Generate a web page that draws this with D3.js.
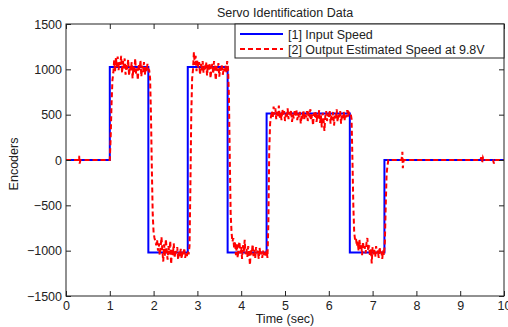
<!DOCTYPE html>
<html>
<head>
<meta charset="utf-8">
<script src="https://cdn.jsdelivr.net/npm/d3@7"></script>
<style>
  body { margin: 0; background: #fff; }
  svg text { font-family: "Liberation Sans", Arial, sans-serif; fill: #222; }
</style>
</head>
<body>
<div id="chart"></div>
<script>
const width = 508;
const height = 327;
const margin = { top: 24, right: 4, bottom: 31, left: 66 };
const fontSize = 12.5;

// input speed: step changes (time, level held until next time)
const inputTimes = [0, 1.0, 1.88, 2.78, 3.69, 4.58, 6.48, 7.27, 10];
const inputLevels = [0, 1025, -1020, 1025, -1020, 512, -1020, 0, 0];

// output speed, flat parts given as [time, value]
const outputBefore = [[0, 0], [0.28, 0], [0.30, 45], [0.31, -40], [0.33, 0], [0.98, 0]];
const outputAfter = [[7.40, 0], [7.66, 0], [7.68, 90], [7.69, -90], [7.71, 0], [9.46, 0], [9.48, 30],
  [9.50, -30], [9.52, 25], [9.54, 0], [9.75, 0], [9.77, -40], [9.79, 0], [10, 0]];

// sampled every 0.02 s starting at 1.00 s
const sampleStart = 1.0;
const sampleStep = 0.02;
const outHigh1 = [0, 250, 620, 880, 960, 1100, 980, 1130, 1020, 1140, 990, 1080, 1050, 1150, 960, 1090,
  1010, 1120, 940, 1060, 1000, 1110, 930, 1040, 990, 1080, 900, 1030, 960, 1120, 950, 1010, 880, 1060,
  990, 1100, 920, 1040, 970, 1080, 940, 1030, 980, 1060, 1000, 990, 900];
const outLow1 = [500, -100, -600, -800, -860, -900, -940, -880, -1000, -920, -1050, -960, -850, -1000,
  -1120, -930, -1060, -870, -1000, -1100, -950, -1040, -890, -1150, -980, -1050, -920, -1080, -990, -1030,
  -960, -1100, -1000, -1060, -980, -1090, -1010, -1040, -970, -1080, -1020, -1060, -1000, -1040, -950,
  -300, 500, 900];
const outHigh2 = [1000, 1190, 1050, 1150, 980, 1100, 1020, 1080, 940, 1060, 990, 1090, 960, 1040, 1000,
  1080, 930, 1050, 980, 1070, 900, 1010, 1060, 950, 1090, 1000, 880, 1040, 980, 1070, 920, 1020, 970,
  1060, 940, 1010, 980, 1040, 960, 1090, 1000, 700];
const outLow2 = [0, -600, -800, -900, -860, -980, -900, -1050, -920, -1080, -960, -900, -1030, -960, -1090,
  -940, -1010, -880, -1040, -980, -1070, -950, -1020, -1160, -980, -1040, -930, -1060, -990, -1080, -960,
  -1030, -1000, -1090, -970, -1050, -1010, -1080, -1000, -1060, -1020, -1070, -1000, -1080, -700];
const outMid = [100, 400, 480, 540, 460, 590, 500, 570, 450, 530, 480, 600, 460, 520, 440, 560, 490, 540,
  430, 510, 470, 570, 450, 530, 480, 550, 420, 500, 460, 540, 490, 560, 440, 510, 470, 530, 400, 500, 480,
  550, 450, 520, 470, 540, 430, 510, 490, 560, 440, 500, 380, 520, 470, 540, 420, 500, 460, 550, 410, 490,
  360, 520, 450, 320, 480, 540, 430, 510, 460, 550, 400, 500, 440, 530, 380, 490, 450, 560, 420, 510, 470,
  540, 400, 500, 460, 530, 440, 510, 470, 550, 480, 520, 500, 510, 450];
const outLow3 = [0, -500, -800, -880, -860, -950, -900, -1000, -880, -980, -930, -1050, -900, -990, -950,
  -1030, -920, -860, -1000, -940, -1060, -980, -1140, -960, -1040, -990, -1070, -950, -1030, -1000, -1080,
  -960, -1040, -1010, -1090, -1000, -1050, -900, -500, -150, -60, 0];

const xTicks = d3.range(0, 11, 1);
const yTicks = [-1500, -1000, -500, 0, 500, 1000, 1500];

const sampled = [].concat(outHigh1, outLow1, outHigh2, outLow2, outMid, outLow3)
  .map((v, i) => [sampleStart + i * sampleStep, v]);
const outputData = outputBefore.concat(sampled, outputAfter);
const inputData = inputTimes.map((t, i) => [t, inputLevels[i]]);

const svg = d3.select('#chart')
  .append('svg')
  .attr('width', width)
  .attr('height', height);

const x = d3.scaleLinear()
  .domain([0, 10])
  .range([margin.left, width - margin.right]);

const y = d3.scaleLinear()
  .domain([-1500, 1500])
  .range([height - margin.bottom, margin.top]);

const plot = svg.append('g');

// lines
plot.append('path')
  .datum(inputData)
  .attr('d', d3.line().x(d => x(d[0])).y(d => y(d[1])).curve(d3.curveStepAfter))
  .attr('fill', 'none')
  .attr('stroke', '#0000ff')
  .attr('stroke-width', 2);

plot.append('path')
  .datum(outputData)
  .attr('d', d3.line().x(d => x(d[0])).y(d => y(d[1])))
  .attr('fill', 'none')
  .attr('stroke', '#ff0000')
  .attr('stroke-width', 2)
  .attr('stroke-dasharray', '5,3');

// axes, ticks inward on all four sides
const tickLen = 5;
svg.append('g')
  .attr('transform', `translate(0, ${height - margin.bottom})`)
  .call(d3.axisBottom(x).tickValues(xTicks).tickFormat(d3.format('d'))
    .tickSizeInner(-tickLen).tickSizeOuter(0).tickPadding(3))
  .call(g => g.select('.domain').remove())
  .call(g => g.selectAll('text').attr('font-size', fontSize).attr('dy', '0.85em'));

svg.append('g')
  .attr('transform', `translate(0, ${margin.top})`)
  .call(d3.axisTop(x).tickValues(xTicks).tickSizeInner(-tickLen).tickSizeOuter(0).tickFormat(''))
  .call(g => g.select('.domain').remove());

svg.append('g')
  .attr('transform', `translate(${margin.left}, 0)`)
  .call(d3.axisLeft(y).tickValues(yTicks).tickFormat(d3.format('d'))
    .tickSizeInner(-tickLen).tickSizeOuter(0).tickPadding(4))
  .call(g => g.select('.domain').remove())
  .call(g => g.selectAll('text').attr('font-size', fontSize));

svg.append('g')
  .attr('transform', `translate(${width - margin.right}, 0)`)
  .call(d3.axisRight(y).tickValues(yTicks).tickSizeInner(-tickLen).tickSizeOuter(0).tickFormat(''))
  .call(g => g.select('.domain').remove());

svg.selectAll('.tick line').attr('stroke', '#222');

svg.append('rect')
  .attr('x', x(0))
  .attr('y', y(1500))
  .attr('width', x(10) - x(0))
  .attr('height', y(-1500) - y(1500))
  .attr('fill', 'none')
  .attr('stroke', '#222');

// labels
svg.append('text')
  .text('Servo Identification Data')
  .attr('x', (x(0) + x(10)) / 2)
  .attr('y', 17)
  .attr('text-anchor', 'middle')
  .attr('font-size', fontSize);

svg.append('text')
  .text('Time (sec)')
  .attr('x', (x(0) + x(10)) / 2)
  .attr('y', 323)
  .attr('text-anchor', 'middle')
  .attr('font-size', fontSize);

svg.append('text')
  .text('Encoders')
  .attr('transform', `translate(18, ${y(0) + 4}) rotate(-90)`)
  .attr('text-anchor', 'middle')
  .attr('font-size', fontSize);

// legend
const legend = svg.append('g');
legend.append('rect')
  .attr('x', 235)
  .attr('y', y(1500))
  .attr('width', x(10) - 235)
  .attr('height', 34)
  .attr('fill', '#fff')
  .attr('stroke', '#222');

legend.append('line')
  .attr('x1', 240).attr('x2', 283)
  .attr('y1', 34).attr('y2', 34)
  .attr('stroke', '#0000ff')
  .attr('stroke-width', 2);

legend.append('line')
  .attr('x1', 240).attr('x2', 283)
  .attr('y1', 49).attr('y2', 49)
  .attr('stroke', '#ff0000')
  .attr('stroke-width', 2)
  .attr('stroke-dasharray', '5,3');

legend.append('text')
  .text('[1] Input Speed')
  .attr('x', 288)
  .attr('y', 38.5)
  .attr('font-size', fontSize);

legend.append('text')
  .text('[2] Output Estimated Speed at 9.8V')
  .attr('x', 288)
  .attr('y', 53.5)
  .attr('font-size', fontSize);
</script>
</body>
</html>
